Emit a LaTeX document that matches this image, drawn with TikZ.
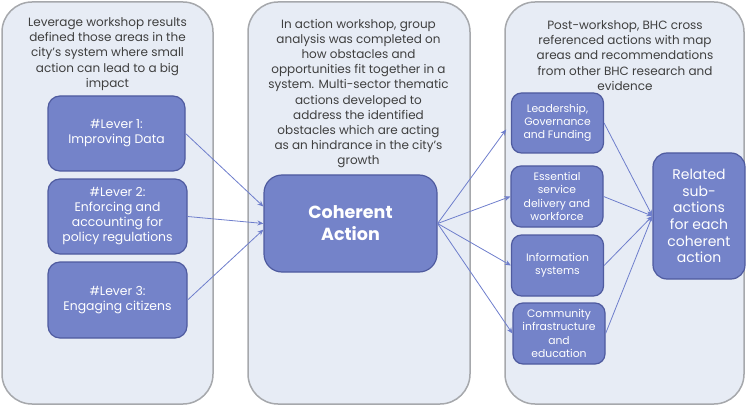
\documentclass[tikz,border=0pt]{standalone}
\usepackage{fontspec}
\setmainfont{Poppins}
\usetikzlibrary{arrows.meta}
\definecolor{panelfill}{HTML}{E7ECF5}
\definecolor{paneldraw}{HTML}{A6A8AC}
\definecolor{boxfill}{HTML}{7483C9}
\definecolor{boxdraw}{HTML}{4F5B9F}
\definecolor{linkcol}{HTML}{6E7ECC}
\definecolor{textcol}{HTML}{3F3F3F}
\begin{document}
\begin{tikzpicture}[x=1pt,y=-1pt,
  panel/.style={draw=paneldraw, fill=panelfill, line width=1.5pt, rounded corners=30pt, inner sep=0pt},
  paneltext/.style={text=textcol, align=center, font=\fontsize{12}{15.2}\selectfont},
  lever/.style={draw=boxdraw, fill=boxfill, line width=1.2pt, rounded corners=12pt, text=white, align=center, font=\fontsize{12.4}{15}\selectfont},
  area/.style={draw=boxdraw, fill=boxfill, line width=1.2pt, rounded corners=10pt, text=white, align=center, minimum width=92pt, minimum height=61pt, inner sep=0pt, font=\fontsize{10.8}{13.2}\selectfont},
  link/.style={draw=linkcol, line width=0.8pt, -{Stealth[length=6pt,width=5pt]}}]
\useasboundingbox (0,0) rectangle (746,406);
\node[panel, minimum width=211pt, minimum height=402pt] (p1) at (107.5,203) {};
\node[panel, minimum width=222pt, minimum height=402pt] (p2) at (359,203) {};
\node[panel, minimum width=239pt, minimum height=402pt] (p3) at (624.5,203) {};
\node[paneltext] (t1) at (107.5,54) {Leverage workshop results\\defined those areas in the\\city's system where small\\action can lead to a big\\impact};
\node[paneltext] (t2) at (358.5,93.5) {In action workshop, group\\analysis was completed on\\how obstacles and\\opportunities fit together in a\\system. Multi-sector thematic\\actions developed to\\address the identified\\obstacles which are acting\\as an hindrance in the city's\\growth};
\node[paneltext] (t3) at (625,55.5) {Post-workshop, BHC cross\\referenced actions with map\\areas and recommendations\\from other BHC research and\\evidence};
\node[lever, minimum width=137pt, minimum height=75pt] (l1) at (116.5,133.5) {\#Lever 1:\\Improving Data};
\node[lever, minimum width=139pt, minimum height=75pt] (l2) at (117.5,216.5) {\#Lever 2:\\Enforcing and\\accounting for\\policy regulations};
\node[lever, minimum width=139pt, minimum height=76pt] (l3) at (117.5,300) {\#Lever 3:\\Engaging citizens};
\node[lever, minimum width=173pt, minimum height=97pt, rounded corners=18pt, font=\fontsize{17.5}{22}\selectfont\bfseries] (ca) at (350.5,223.5) {Coherent\\Action};
\node[area, minimum height=60pt] (a1) at (557.5,123) {Leadership,\\Governance\\and Funding};
\node[area] (a2) at (557,196.5) {Essential\\service\\delivery and\\workforce};
\node[area] (a3) at (557.5,265.5) {Information\\systems};
\node[area] (a4) at (559,333.5) {Community\\infrastructure\\and\\education};
\node[area, minimum height=126pt, rounded corners=14pt, font=\fontsize{14}{16.7}\selectfont] (ra) at (699,216) {Related\\sub-\\actions\\for each\\coherent\\action};
\draw[link] (l1.east) -- (ca.169);
\draw[link] (l2.east) -- (ca.180);
\draw[link] (l3.east) -- (ca.184);
\draw[link, shorten >=8pt] (ca.east) -- (a1.west);
\draw[link] (ca.east) -- (a2.west);
\draw[link] (ca.east) -- (a3.west);
\draw[link] (ca.east) -- (a4.west);
\draw[link] (a1.east) -- (ra.west);
\draw[link] (a2.east) -- (ra.west);
\draw[link] (a3.east) -- (ra.west);
\draw[link] (a4.east) -- (ra.west);
\end{tikzpicture}
\end{document}
